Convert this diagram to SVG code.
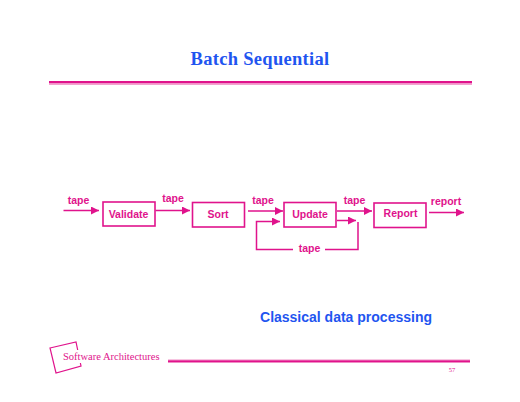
<svg xmlns="http://www.w3.org/2000/svg" width="520" height="402" viewBox="0 0 520 402">
<defs>
<marker id="arr" markerUnits="userSpaceOnUse" markerWidth="9" markerHeight="8" refX="8" refY="4" orient="auto"><path d="M0 0L8 4L0 8Z" fill="#e0138c"/></marker>
</defs>
<style>
.s{font-family:"Liberation Sans",Arial,sans-serif;font-weight:bold;fill:#e0138c;font-size:10.5px;text-anchor:middle}
.b{fill:none;stroke:#e0138c;stroke-width:1.6}
.c{fill:none;stroke:#e0138c;stroke-width:1.5}
.a{marker-end:url(#arr)}
</style>
<rect width="520" height="402" fill="#fff"/>
<text x="260" y="65" font-family="'Liberation Serif','DejaVu Serif',serif" font-weight="bold" font-size="18.5" letter-spacing="0.3" fill="#1f55f0" text-anchor="middle">Batch Sequential</text>
<rect x="49" y="81" width="423" height="2.4" fill="#e0138c"/>
<rect x="49" y="83.4" width="423" height="1.4" fill="#f08cc4"/>
<g id="connectors">
<path class="c a" d="M63.500 210.500H99"/>
<path class="c a" d="M155.500 210.500H190"/>
<path class="c a" d="M248 211H283"/>
<path class="c a" d="M337 211H372"/>
<path class="c a" d="M429 212.500H464"/>
<path class="c a" d="M337 220.500H356"/>
<path class="c a" d="M293 249.500H256.500V221.500H280"/>
<path class="c" d="M325 249.500H358V222"/>
</g>
<g id="label-tape-1"><text class="s" x="78.500" y="204">tape</text></g>
<g id="label-tape-2"><text class="s" x="173" y="201.500">tape</text></g>
<g id="label-tape-3"><text class="s" x="263" y="204">tape</text></g>
<g id="label-tape-4"><text class="s" x="354.500" y="204">tape</text></g>
<g id="label-report"><text class="s" x="446" y="205">report</text></g>
<g id="label-tape-5"><text class="s" x="309.500" y="252">tape</text></g>
<g id="validate"><rect class="b" x="103" y="202" width="52" height="24"/><text class="s" x="128.500" y="218">Validate</text></g>
<g id="sort"><rect class="b" x="192.500" y="202.500" width="52" height="24.500"/><text class="s" x="218" y="218">Sort</text></g>
<g id="update"><rect class="b" x="284" y="202.500" width="52" height="24.500"/><text class="s" x="310" y="218">Update</text></g>
<g id="report"><rect class="b" x="374" y="203" width="52" height="24.500"/><text class="s" x="400.500" y="217">Report</text></g>
<text x="346" y="322" font-family="'Liberation Sans',Arial,sans-serif" font-weight="bold" font-size="14" fill="#1f55f0" text-anchor="middle">Classical data processing</text>
<path d="M50 348L76 342L81 366L56 373Z" fill="none" stroke="#e0138c" stroke-width="1.2"/>
<rect x="62" y="350" width="100" height="13" fill="#fff"/>
<text x="63" y="360" font-family="'Liberation Serif',serif" font-size="10.500" fill="#e0138c">Software Architectures</text>
<rect x="168" y="359.500" width="302" height="3.500" fill="#f08cc4"/>
<rect x="168" y="360.500" width="302" height="1.500" fill="#e0138c"/>
<text x="452" y="372" font-family="'Liberation Serif',serif" font-size="6.500" fill="#e0138c" text-anchor="middle">57</text>
</svg>
